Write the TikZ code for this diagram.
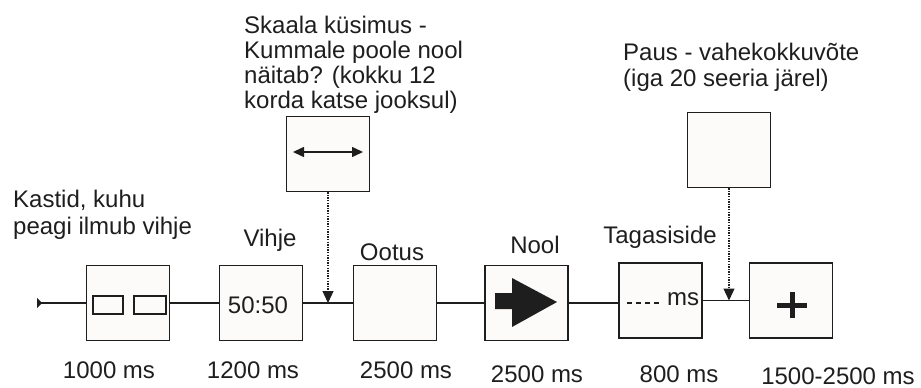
\documentclass[tikz,border=0pt]{standalone}
\usepackage{fontspec}
\setmainfont{Liberation Sans}
\usetikzlibrary{arrows.meta,calc}
\definecolor{ink}{HTML}{1E1E1E}
\definecolor{boxfill}{HTML}{FCFBFA}
\begin{document}
\begin{tikzpicture}[x=1pt,y=-1pt,
  every node/.style={font=\fontsize{24}{26}\selectfont, text=ink, inner sep=0pt},
  stim/.style={draw=ink, fill=boxfill, line width=1.5pt, minimum width=83pt, minimum height=75pt},
  conn/.style={draw=ink, line width=1.5pt},
  dotconn/.style={draw=ink, line width=1.2pt, dash pattern=on 1.3pt off 1.3pt, -{Triangle[width=11pt,length=12pt]}},
  lab/.style={anchor=base},
  note/.style={anchor=base west, align=left}
]
\useasboundingbox (0,0) rectangle (921,388);

% stimulus boxes on the timeline
\node[stim] (b1) at (128,303) {};
\node[stim] (b2) at (261,303) {};
\node[stim] (b3) at (395,303) {};
\node[stim] (b4) at (526.5,303) {};
\node[stim] (b5) at (660.5,300.5) {};
\node[stim] (b6) at (791,300.5) {};
% inserted screens
\node[stim] (t1) at (328,154) {};
\node[stim] (t2) at (729,150) {};

% timeline
\coordinate (s) at (37,303);
\draw[conn, {Triangle[reversed,width=10pt,length=5pt]}-] (s) -- (b1.west);
\draw[conn] (b1.east) -- (b2.west);
\draw[conn] (b2.east) -- (b3.west);
\draw[conn] (b3.east) -- (b4.west);
\draw[conn] (b4.east) -- (b4.east -| b5.west);
\draw[conn] (b5.east) -- (b6.west);

% dotted insert arrows
\draw[dotconn] (t1.south) -- (t1.south |- b3.west);
\draw[dotconn] (t2.south) -- (t2.south |- b6.west);

% contents of boxes
\draw[ink, line width=1.5pt] ($(b1.center)+(-35,-7)$) rectangle ($(b1.center)+(-5,11)$);
\draw[ink, line width=1.5pt] ($(b1.center)+(6,-7)$) rectangle ($(b1.center)+(38,11)$);
\node (fifty) at ($(b2.center)+(-3,2)$) {50:50};
\begin{scope}[shift={(b4.center)}]
  \fill[ink] (-31.5,-10) -- (-14.5,-10) -- (-14.5,-25) -- (30.5,-1) -- (-14.5,24) -- (-14.5,6) -- (-31.5,6) -- cycle;
\end{scope}
\draw[ink, line width=1.5pt, dash pattern=on 5pt off 4pt] ($(b5.center)+(-33.5,2.5)$) -- ($(b5.center)+(-1.5,2.5)$);
\node[anchor=base west] (msfb) at ($(b5.center)+(6.5,4.5)$) {ms};
\draw[ink, line width=5pt] ($(b6.center)+(-14,4.5)$) -- ($(b6.center)+(16,4.5)$);
\draw[ink, line width=5pt] ($(b6.center)+(1,-8.5)$) -- ($(b6.center)+(1,17.5)$);
\draw[ink, line width=1.5pt, {Triangle[width=10pt,length=11pt]}-{Triangle[width=10pt,length=11pt]}] ($(t1.center)+(-35,-2)$) -- ($(t1.center)+(35,-2)$);

% labels above (base anchor = baseline of last line)
\node[note, font=\fontsize{24}{27}\selectfont] (kastid) at (13,234) {Kastid, kuhu\\peagi ilmub vihje};
\node[lab] (vihje) at (270,246) {Vihje};
\node[lab] (ootus) at (392,260) {Ootus};
\node[lab] (nool) at (535,253) {Nool};
\node[lab] (tagas) at (660,243) {Tagasiside};
\node[note, font=\fontsize{24}{25}\selectfont] (skaala) at (244,108) {Skaala küsimus -\\Kummale poole nool\\näitab? (kokku 12\\korda katse jooksul)};
\node[note, font=\fontsize{24}{26}\selectfont] (paus) at (623,86) {Paus - vahekokkuvõte\\(iga 20 seeria järel)};

% durations
\node[lab] (d1) at (109,378) {1000 ms};
\node[lab] (d2) at (253,378) {1200 ms};
\node[lab] (d3) at (406,378) {2500 ms};
\node[lab] (d4) at (537,382) {2500 ms};
\node[lab] (d5) at (679,382) {800 ms};
\node[lab] (d6) at (838,384) {1500-2500 ms};
\end{tikzpicture}
\end{document}
